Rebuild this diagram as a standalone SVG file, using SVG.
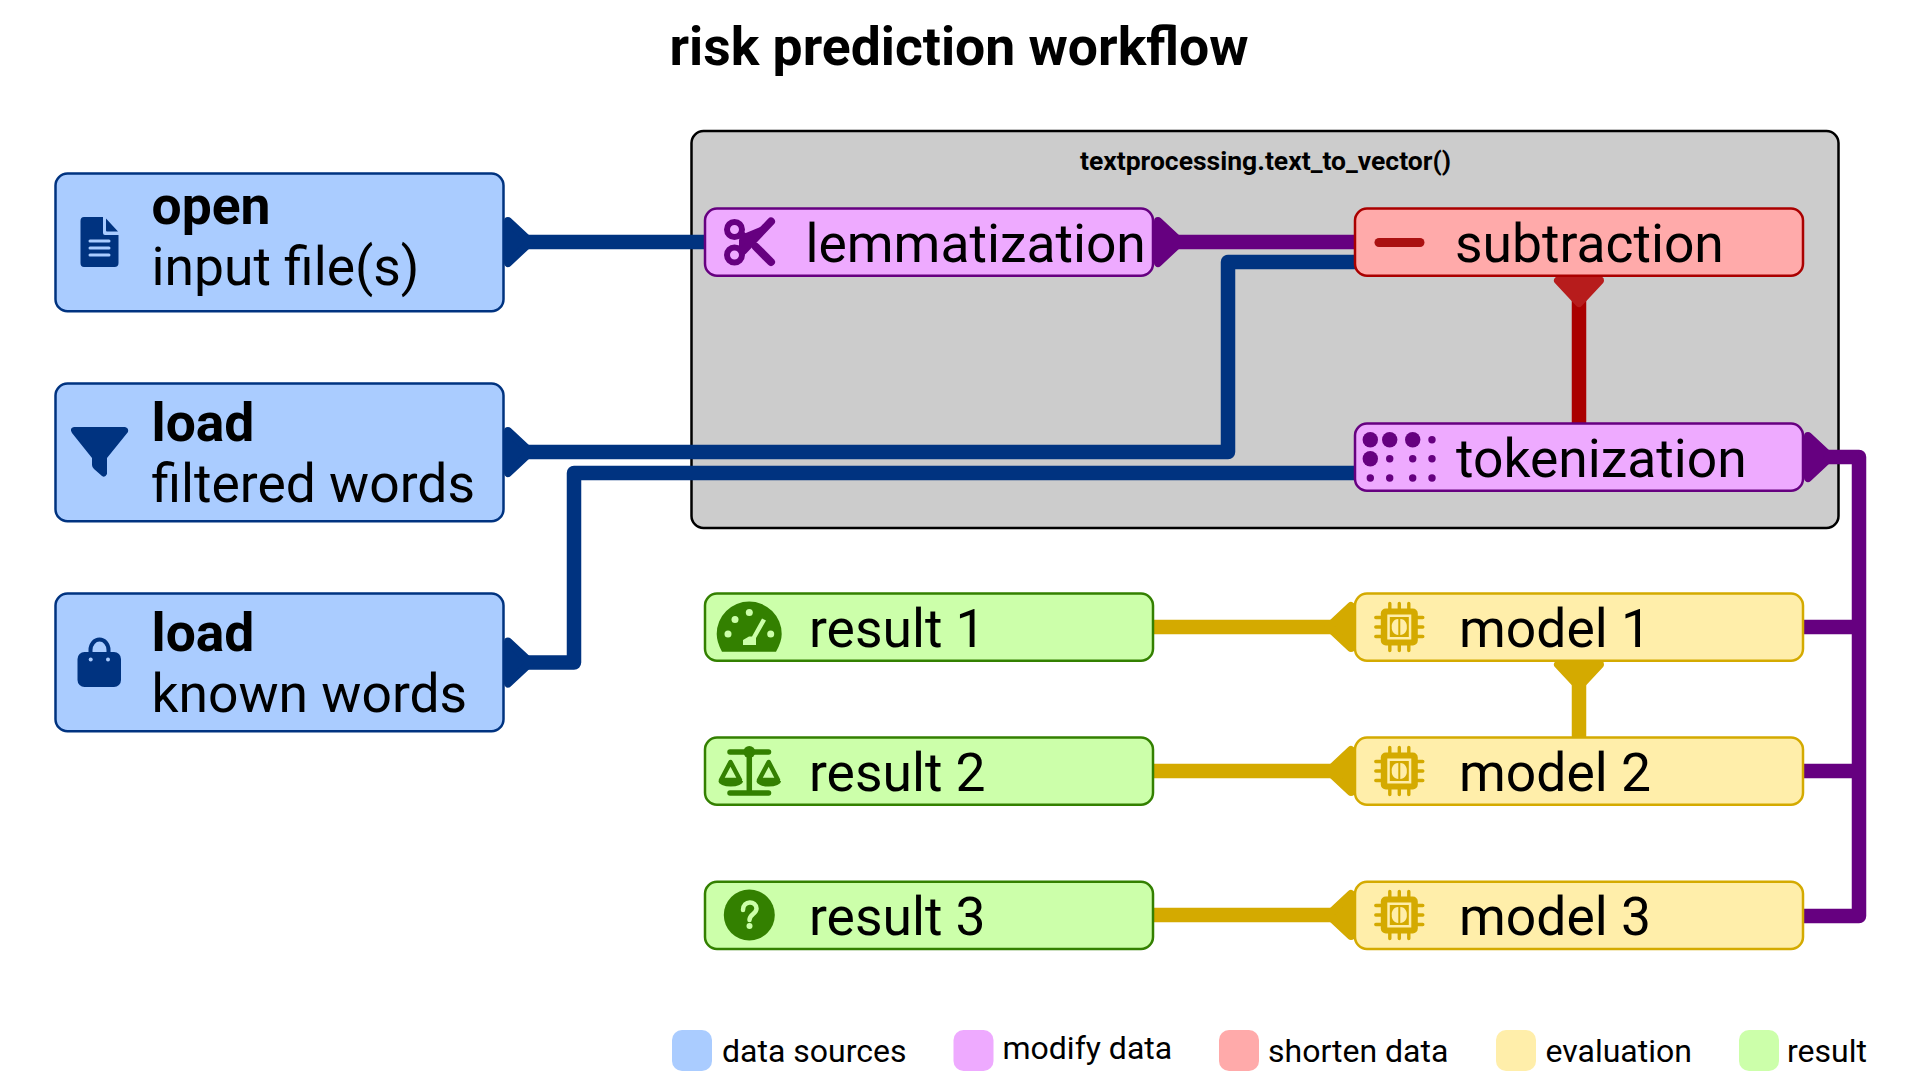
<svg xmlns="http://www.w3.org/2000/svg" xmlns:xlink="http://www.w3.org/1999/xlink" width="1920" height="1080" viewBox="0 0 1920 1080">
<style>
text{font-family:Roboto,"Liberation Sans",sans-serif;fill:#000}
.t{font-size:53.400px}
.b{font-weight:700}
.l{font-size:32px}
.n{stroke-width:2.5px}
.blue{fill:#aaccff;stroke:#003380}
.pur{fill:#eeaaff;stroke:#660080}
.red{fill:#ffaaaa;stroke:#aa0000}
.yel{fill:#ffeeaa;stroke:#d4aa00}
.grn{fill:#ccffaa;stroke:#338000}
.e{fill:none;stroke-width:14.5px;stroke-linejoin:round}
.eb{stroke:#003380;marker-start:url(#hb)}
.ep{stroke:#660080}
.er{stroke:#aa0000;marker-start:url(#hr)}
.ey{stroke:#d4aa00;marker-start:url(#hy)}
</style>
<defs>
<marker id="hb" markerUnits="userSpaceOnUse" viewBox="0 0 40 60" markerWidth="40" markerHeight="60" refX="0" refY="30" orient="auto"><polygon points="4,9 26.500,30 4,51" fill="#003380" stroke="#003380" stroke-width="8" stroke-linejoin="round"/></marker>
<marker id="hp" markerUnits="userSpaceOnUse" viewBox="0 0 40 60" markerWidth="40" markerHeight="60" refX="0" refY="30" orient="auto"><polygon points="4,9 26.500,30 4,51" fill="#660080" stroke="#660080" stroke-width="8" stroke-linejoin="round"/></marker>
<marker id="hr" markerUnits="userSpaceOnUse" viewBox="0 0 40 60" markerWidth="40" markerHeight="60" refX="0" refY="30" orient="auto"><polygon points="4,9 26.500,30 4,51" fill="#b71c1c" stroke="#b71c1c" stroke-width="8" stroke-linejoin="round"/></marker>
<marker id="hy" markerUnits="userSpaceOnUse" viewBox="0 0 40 60" markerWidth="40" markerHeight="60" refX="0" refY="30" orient="auto"><polygon points="4,9 26.500,30 4,51" fill="#d4aa00" stroke="#d4aa00" stroke-width="8" stroke-linejoin="round"/></marker>
<g id="chip">
<path d="M-9.500 -23.500V23.500M0 -23.500V23.500M9.500 -23.500V23.500M-23.500 -9.500H23.500M-23.500 0H23.500M-23.500 9.500H23.500" stroke="#d4aa00" stroke-width="3.400" stroke-linecap="round" fill="none"/>
<rect x="-18.500" y="-18.500" width="37" height="37" rx="5" fill="#d4aa00"/>
<rect x="-12" y="-12.500" width="24" height="25" fill="#ffeeaa"/>
<rect x="-9.500" y="-10" width="19" height="20" fill="#d4aa00"/>
<path d="M-1 -8C-6 -8 -8 -3 -7.500 0C-8 4 -5 8 -1 8ZM1 -8C6 -8 8 -3 7.500 0C8 4 5 8 1 8Z" fill="#ffeeaa"/>
</g>
</defs>
<rect width="1920" height="1080" fill="#fff"/>
<text class="b" x="959" y="65" text-anchor="middle" font-size="53.500">risk prediction workflow</text>
<g id="cluster">
<rect x="691.500" y="131" width="1147" height="397" rx="12" fill="#cccccc" stroke="#000" stroke-width="2.500"/>
<text class="b" x="1265.500" y="170" text-anchor="middle" font-size="26.500">textprocessing.text_to_vector()</text>
</g>
<g id="connectors">
<path class="e eb" d="M504 242H706"/>
<path class="e eb" d="M504 452H1228V262H1356"/>
<path class="e eb" d="M504 662.500H574V473H1356"/>
<path class="e ep" style="marker-start:url(#hp)" d="M1154 242H1356"/>
<path class="e er" d="M1579 276.500V424"/>
<path class="e ep" style="marker-start:url(#hp)" d="M1804 457H1859V916H1802"/>
<path class="e ep" d="M1802 627H1859M1802 771H1859"/>
<path class="e ey" d="M1355 627H1152"/>
<path class="e ey" d="M1355 771H1152"/>
<path class="e ey" d="M1355 915H1152"/>
<path class="e ey" d="M1579 660.500V738"/>
</g>
<g id="open">
<rect class="n blue" x="55.500" y="173.500" width="448" height="137.700" rx="12"/>
<path d="M84 217H103V233Q103 235 105 235H118.500V263Q118.500 267 114.500 267H84Q80.500 267 80.500 263V221Q80.500 217 84 217ZM106 218.500L118 231.500H107Q106 231.500 106 230.500Z" fill="#003380"/>
<path d="M90 241H109M90 248H109M90 255H109" stroke="#aaccff" stroke-width="3" stroke-linecap="round" fill="none"/>
<text class="t b" x="151.500" y="224">open</text>
<text class="t" x="151.500" y="285">input file(s)</text>
</g>
<g id="load-filtered">
<rect class="n blue" x="55.500" y="383.500" width="448" height="137.700" rx="12"/>
<path d="M74 427H125Q129 428 128 432L107 458V474Q105 478 102 476L94 469Q92 467 92 465V458L72 433Q69 428 74 427Z" fill="#003380"/>
<text class="t b" x="151.500" y="441">load</text>
<text class="t" x="151.500" y="502">filtered words</text>
</g>
<g id="load-known">
<rect class="n blue" x="55.500" y="593.500" width="448" height="137.700" rx="12"/>
<path d="M90.500 654V650A9 10.500 0 0 1 108.500 650V654" fill="none" stroke="#003380" stroke-width="4"/>
<rect x="77.500" y="652" width="43.500" height="35" rx="7" fill="#003380"/>
<circle cx="90.700" cy="659.500" r="2" fill="#aaccff"/><circle cx="108" cy="659.500" r="2" fill="#aaccff"/>
<text class="t b" x="151.500" y="651">load</text>
<text class="t" x="151.500" y="712">known words</text>
</g>
<g id="lemmatization">
<rect class="n pur" x="705" y="208.500" width="448" height="67.200" rx="12"/>
<circle cx="734.500" cy="229.500" r="7.500" fill="none" stroke="#660080" stroke-width="6"/>
<circle cx="734.500" cy="255" r="7.500" fill="none" stroke="#660080" stroke-width="6"/>
<path d="M741 235L770 223L772 225L747 250Q742 254 739 250L739 240Z" fill="#660080"/>
<path d="M743 251L771 221.500" stroke="#660080" stroke-width="8" stroke-linecap="round"/>
<path d="M740 234L752 243" stroke="#660080" stroke-width="8"/>
<path d="M756 247L771 262" stroke="#660080" stroke-width="8" stroke-linecap="round"/>
<text class="t" x="805.500" y="262">lemmatization</text>
</g>
<g id="subtraction">
<rect class="n red" x="1355" y="208.500" width="448" height="67.200" rx="12"/>
<rect x="1374.500" y="238" width="50" height="9" rx="4.500" fill="#aa1111"/>
<text class="t" x="1455" y="262">subtraction</text>
</g>
<g id="tokenization">
<rect class="n pur" x="1355" y="423.500" width="448" height="67.200" rx="12"/>
<g fill="#660080">
<circle cx="1370.300" cy="439.700" r="7.700"/><circle cx="1389.700" cy="439.700" r="7.700"/><circle cx="1412.700" cy="439.700" r="7.700"/><circle cx="1432" cy="439.700" r="3.700"/>
<circle cx="1370.300" cy="458.700" r="7.700"/><circle cx="1389.700" cy="458.700" r="3.700"/><circle cx="1412.700" cy="458.700" r="3.700"/><circle cx="1432" cy="458.700" r="3.700"/>
<circle cx="1370.300" cy="478" r="3.700"/><circle cx="1389.700" cy="478" r="3.700"/><circle cx="1412.700" cy="478" r="3.700"/><circle cx="1432" cy="478" r="3.700"/>
</g>
<text class="t" x="1456" y="477">tokenization</text>
</g>
<g id="result1">
<rect class="n grn" x="705" y="593.500" width="448" height="67.200" rx="12"/>
<path d="M722 651.700Q716.700 642 716.700 634A32.500 32.500 0 0 1 781.700 634Q781.700 642 776 651.700Z" fill="#338000"/>
<g fill="#ccffaa"><circle cx="728" cy="634" r="3.500"/><circle cx="735" cy="619.500" r="3.500"/><circle cx="749.300" cy="612.500" r="3.500"/><circle cx="770.700" cy="634" r="3.500"/>
<path d="M762 618.500L766 620.500L756 638L756 645H743V640L749 636.500H752Z"/></g>
<text class="t" x="809" y="647">result 1</text>
</g>
<g id="result2">
<rect class="n grn" x="705" y="737.500" width="448" height="67.200" rx="12"/>
<g fill="#338000" stroke="#338000" stroke-linecap="round">
<circle cx="749.300" cy="752" r="6" stroke="none"/>
<path d="M730 752H768.500" stroke-width="5.500"/>
<path d="M749.300 752V790" stroke-width="5.500"/>
<path d="M730 793H768.500" stroke-width="5.500"/>
<path d="M718.500 781A12 5.500 0 0 0 743 781ZM756.500 781A12 5.500 0 0 0 781 781Z" stroke="none"/>
<path d="M730.500 762L721 780H740ZM768.700 762L759 780H778Z" fill="#ccffaa" stroke-width="4.500" stroke-linejoin="round"/>
</g>
<text class="t" x="809" y="791">result 2</text>
</g>
<g id="result3">
<rect class="n grn" x="705" y="881.800" width="448" height="67.200" rx="12"/>
<circle cx="749.300" cy="915" r="25.500" fill="#338000"/>
<path d="M743 910C743 900 756.500 900.500 756.500 908.500C756.500 914 749.500 914 749.500 920" fill="none" stroke="#ccffaa" stroke-width="4.500" stroke-linecap="round"/>
<circle cx="749.500" cy="926" r="3" fill="#ccffaa"/>
<text class="t" x="809" y="934.500">result 3</text>
</g>
<g id="model1">
<rect class="n yel" x="1355" y="593.500" width="448" height="67.200" rx="12"/>
<use xlink:href="#chip" href="#chip" transform="translate(1399.300 627)"/>
<text class="t" x="1459" y="647">model 1</text>
</g>
<g id="model2">
<rect class="n yel" x="1355" y="737.500" width="448" height="67.200" rx="12"/>
<use xlink:href="#chip" href="#chip" transform="translate(1399.300 771)"/>
<text class="t" x="1459" y="791">model 2</text>
</g>
<g id="model3">
<rect class="n yel" x="1355" y="881.800" width="448" height="67.200" rx="12"/>
<use xlink:href="#chip" href="#chip" transform="translate(1399.300 915)"/>
<text class="t" x="1459" y="934.500">model 3</text>
</g>
<g id="legend">
<rect x="672" y="1030" width="40" height="41" rx="10" fill="#aaccff"/><text class="l" x="722" y="1062">data sources</text>
<rect x="953.500" y="1030" width="40" height="41" rx="10" fill="#eeaaff"/><text class="l" x="1002.500" y="1059">modify data</text>
<rect x="1219" y="1030" width="40" height="41" rx="10" fill="#ffaaaa"/><text class="l" x="1268" y="1062">shorten data</text>
<rect x="1496" y="1030" width="40" height="41" rx="10" fill="#ffeeaa"/><text class="l" x="1545.500" y="1062">evaluation</text>
<rect x="1739" y="1030" width="40" height="41" rx="10" fill="#ccffaa"/><text class="l" x="1787" y="1062">result</text>
</g>
</svg>
